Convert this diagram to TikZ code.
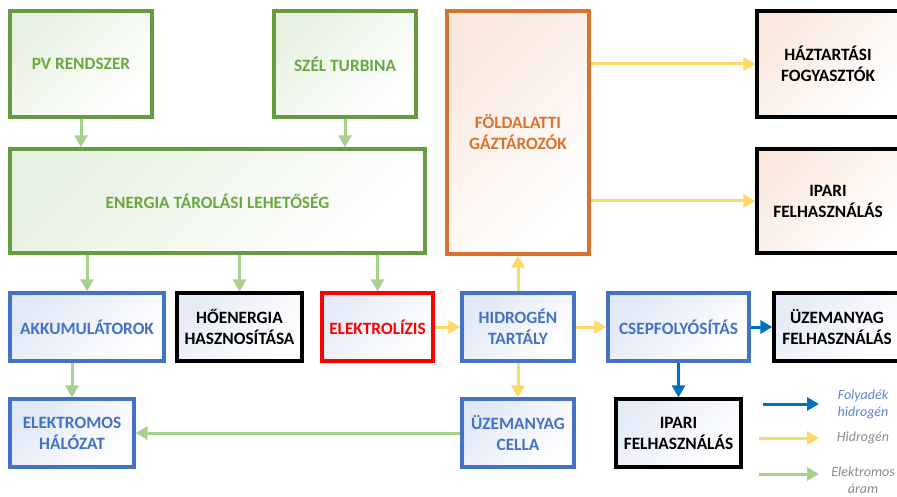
\documentclass[tikz,border=0pt]{standalone}
\usepackage{fontspec}
\setmainfont{Carlito}
\usetikzlibrary{arrows.meta}
\definecolor{gbord}{HTML}{659C40}
\definecolor{gtext}{HTML}{6AA843}
\definecolor{garr}{HTML}{A9D18E}
\definecolor{yarr}{HTML}{FFD966}
\definecolor{barr}{HTML}{0070C0}
\definecolor{bbord}{HTML}{4472C4}
\definecolor{obord}{HTML}{D9722F}
\definecolor{legblue}{HTML}{5B83D6}
\definecolor{leggray}{HTML}{8C8C8C}
\tikzset{
  box/.style={draw, line width=3.2pt, inner sep=0pt, align=center,
    font=\fontsize{17.3}{21}\selectfont\bfseries},
  gbox/.style={box, draw=gbord, text=gtext, top color=gtext!16, bottom color=white, shading angle=45},
  bbox/.style={box, draw=bbord, text=bbord, top color=bbord!16, bottom color=white, shading angle=45},
  kbox/.style={box, draw=black, text=black, top color=bbord!14, bottom color=white, shading angle=45},
  pbox/.style={box, draw=black, text=black, top color=obord!16, bottom color=white, shading angle=45},
  rbox/.style={box, draw=red, text=red, top color=bbord!14, bottom color=white, shading angle=45},
  obox/.style={box, draw=obord, text=obord, top color=obord!16, bottom color=white, shading angle=45},
  arr/.style={line width=3pt, -{Triangle[width=13pt,length=12pt]}},
  garrow/.style={arr, draw=garr},
  yarrow/.style={arr, draw=yarr},
  barrow/.style={arr, draw=barr},
  legtext/.style={font=\fontsize{14}{17}\selectfont\itshape, align=center},
}
\begin{document}
\begin{tikzpicture}[x=1pt,y=-1pt]
\useasboundingbox (0,0) rectangle (897,497);
% top row
\node[gbox, minimum width=142pt, minimum height=106pt] (pv) at (81,64) {PV RENDSZER};
\node[gbox, minimum width=142pt, minimum height=106pt] (szel) at (345,64) {SZÉL TURBINA};
\node[gbox, minimum width=415pt, minimum height=104pt] (ener) at (217.5,201) {ENERGIA TÁROLÁSI LEHETŐSÉG};
\node[obox, minimum width=142pt, minimum height=243pt] (fold) at (518,132.5) {FÖLDALATTI\\GÁZTÁROZÓK};
\node[pbox, minimum width=142pt, minimum height=106pt] (haz) at (828,64) {HÁZTARTÁSI\\FOGYASZTÓK};
\node[pbox, minimum width=142pt, minimum height=104pt] (ip1) at (828,201) {IPARI\\FELHASZNÁLÁS};
% middle row
\node[bbox, minimum width=154pt, minimum height=68pt] (akku) at (87,327) {AKKUMULÁTOROK};
\node[kbox, minimum width=125pt, minimum height=68pt] (ho) at (239.5,327) {HŐENERGIA\\HASZNOSÍTÁSA};
\node[rbox, minimum width=111pt, minimum height=68pt] (elek) at (377.5,327) {ELEKTROLÍZIS};
\node[bbox, minimum width=112pt, minimum height=68pt] (h2) at (518,327) {HIDROGÉN\\TARTÁLY};
\node[bbox, minimum width=141pt, minimum height=68pt] (csep) at (678.5,327) {CSEPFOLYÓSÍTÁS};
\node[kbox, minimum width=126pt, minimum height=68pt] (uzf) at (837,327) {ÜZEMANYAG\\FELHASZNÁLÁS};
% bottom row
\node[bbox, minimum width=124pt, minimum height=68pt] (hal) at (72,433) {ELEKTROMOS\\HÁLÓZAT};
\node[bbox, minimum width=112pt, minimum height=68pt] (cella) at (518,433) {ÜZEMANYAG\\CELLA};
\node[kbox, minimum width=125pt, minimum height=68pt] (ip2) at (678.5,433) {IPARI\\FELHASZNÁLÁS};
% arrows
\draw[garrow] (pv.south) -- (pv.south |- ener.north);
\draw[garrow] (szel.south) -- (szel.south |- ener.north);
\draw[garrow] (akku.north |- ener.south) -- (akku.north);
\draw[garrow] (ho.north |- ener.south) -- (ho.north);
\draw[garrow] (elek.north |- ener.south) -- (elek.north);
\draw[garrow] (hal.north |- akku.south) -- (hal.north);
\draw[garrow] (cella.west) -- (hal.east);
\draw[yarrow] (elek.east) -- (h2.west);
\draw[yarrow] (h2.north) -- (fold.south);
\draw[yarrow] (h2.south) -- (cella.north);
\draw[yarrow] (h2.east) -- (csep.west);
\draw[barrow] (csep.east) -- (uzf.west);
\draw[barrow] (csep.south) -- (ip2.north);
\draw[yarrow] (fold.east |- haz.west) -- (haz.west);
\draw[yarrow] (fold.east |- ip1.west) -- (ip1.west);
% legend
\coordinate (lb1) at (763,404); \coordinate (lb2) at (819,404);
\coordinate (ly1) at (759,438); \coordinate (ly2) at (819,438);
\coordinate (lg1) at (759,474); \coordinate (lg2) at (819,474);
\draw[barrow] (lb1) -- (lb2);
\draw[yarrow] (ly1) -- (ly2);
\draw[garrow] (lg1) -- (lg2);
\node[legtext, text=legblue] (tb) at (863,404) {Folyadék\\hidrogén};
\node[legtext, text=leggray] (ty) at (863,438) {Hidrogén};
\node[legtext, text=leggray] (tg) at (863,480) {Elektromos\\áram};
\end{tikzpicture}
\end{document}
